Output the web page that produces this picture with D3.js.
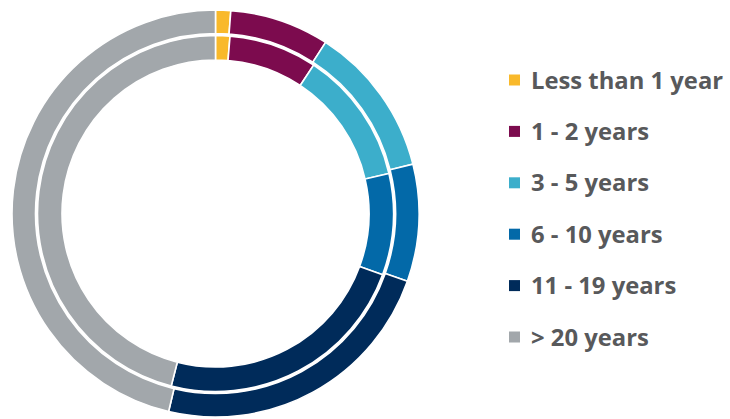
<!DOCTYPE html>
<html>
<head>
<meta charset="utf-8">
<script src="https://cdn.jsdelivr.net/npm/d3@7"></script>
<style>
  body { margin: 0; background: #fff; }
  svg { display: block; }
</style>
</head>
<body>
<div id="container"></div>
<script>
var width = 730, height = 419;

// categories and shares (%) for the two rings
var categories = ["Less than 1 year", "1 - 2 years", "3 - 5 years", "6 - 10 years", "11 - 19 years", "> 20 years"];
var outerValues = [1.2, 7.9, 12.0, 9.3, 23.3, 46.3];
var innerValues = [1.3, 8.0, 12.1, 9.2, 23.4, 46.0];
var colors = ["#F9B92B", "#7C0B4E", "#3CAECB", "#0369A8", "#002B5A", "#A2A7AB"];

var cx = 215.5, cy = 213.5;

var svg = d3.select("#container").append("svg")
    .attr("width", width)
    .attr("height", height);

var pie = d3.pie().sort(null).value(function(d) { return d; });

var color = d3.scaleOrdinal().domain(d3.range(categories.length)).range(colors);

var g = svg.append("g").attr("transform", "translate(" + cx + "," + cy + ")");

function ring(values, r0, r1, cls) {
  var arc = d3.arc().innerRadius(r0).outerRadius(r1);
  g.selectAll("path." + cls)
    .data(pie(values))
    .enter()
    .append("path")
      .attr("class", cls)
      .attr("d", arc)
      .attr("fill", function(d, i) { return color(i); })
      .attr("stroke", "#fff")
      .attr("stroke-width", 1.6);
}

ring(outerValues, 180, 203.5, "outer");
ring(innerValues, 153.5, 178, "inner");

// legend
var legend = svg.append("g").attr("transform", "translate(509,80)");

var row = legend.selectAll("g")
    .data(categories)
  .enter()
  .append("g")
    .attr("transform", function(d, i) { return "translate(0," + (i * 51.4) + ")"; });

row.append("rect")
    .attr("x", 0)
    .attr("y", -5.5)
    .attr("width", 11)
    .attr("height", 11)
    .attr("fill", function(d, i) { return color(i); });

row.append("text")
    .attr("x", 22)
    .attr("y", 0)
    .attr("dy", "0.36em")
    .attr("fill", "#58595b")
    .style("font-family", "'Open Sans', sans-serif")
    .style("font-weight", "bold")
    .style("font-size", "23.8px")
    .text(function(d) { return d; });
</script>
</body>
</html>
